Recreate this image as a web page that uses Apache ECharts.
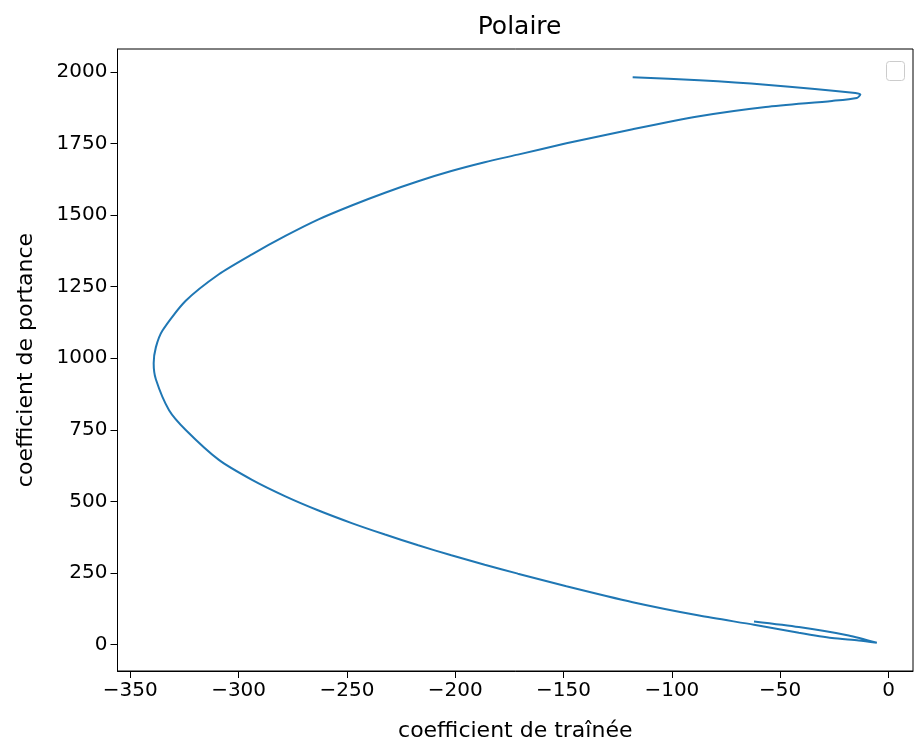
<!DOCTYPE html>
<html>
<head>
<meta charset="utf-8">
<title>Polaire</title>
<script src="https://cdn.jsdelivr.net/npm/echarts@6/dist/echarts.min.js"></script>
<style>
  html, body { margin: 0; padding: 0; background: #fff; }
  #chart { width: 914px; height: 747px; }
</style>
</head>
<body>
<div id="chart"></div>
<script>
// coefficient de traînée (x) et coefficient de portance (y), dans l'ordre du tracé
let trainee = [
  -62.1, -41.4, -18.4, -5.4, -13.8, -26.1, -41.4, -62.1, -87.4, -118.1,
  -148.7, -171.1, -186.4, -201.8, -217.1, -232.4, -247.8, -263.1, -278.4, -293.8,
  -309.1, -324.4, -332.1, -338.2, -339.2, -338.2, -335.2, -324.4, -309.1, -293.8,
  -278.4, -263.1, -247.8, -232.4, -217.1, -201.8, -186.4, -171.1, -148.7, -118.1,
  -87.4, -56.7, -26.1, -14.6, -13.0, -15.3, -56.7, -87.4, -118.1
]
let portance = [
  80.2, 60.7, 31.4, 5.9, 13.9, 22.3, 40.8, 68.7, 100.9, 147.6,
  203.4, 247.2, 278.5, 311.3, 346.2, 383.8, 423.9, 467.8, 517.3, 574.9,
  644.6, 749.2, 818.2, 926.3, 982.0, 1037.8, 1096.0, 1200.6, 1293.4, 1363.1,
  1427.2, 1485.1, 1533.6, 1578.2, 1618.3, 1653.8, 1684.5, 1711.3, 1750.7, 1800.2,
  1845.6, 1878.0, 1898.9, 1909.4, 1920.9, 1926.8, 1955.7, 1971.1, 1981.5
]
// graduations
let xTicks = [-350, -300, -250, -200, -150, -100, -50, 0]
let yTicks = [0, 250, 500, 750, 1000, 1250, 1500, 1750, 2000]

let points = trainee.map((x, i) => [x, portance[i]])

// signe moins typographique comme matplotlib
function fmt(v) {
  return v < 0 ? "\u2212" + Math.abs(v) : String(v)
}

let myChart = echarts.init(document.getElementById("chart"))
let font = "DejaVu Sans"

myChart.setOption({
  animation: false,
  textStyle: { fontFamily: font },
  title: {
    text: "Polaire",
    left: "56.3%",
    textAlign: "center",
    top: 10,
    textStyle: { fontFamily: font, fontSize: 25, fontWeight: "normal", color: "#000" },
  },
  grid: {
    left: 117.5,
    right: 1,
    top: 49,
    bottom: 75,
    show: true,
    borderColor: "#000",
    borderWidth: 1,
    backgroundColor: "#fff",
  },
  xAxis: {
    type: "value",
    min: -355.9,
    max: 11.3,
    name: "coefficient de traînée",
    nameLocation: "middle",
    nameGap: 49,
    nameTextStyle: { fontFamily: font, fontSize: 22, color: "#000" },
    axisLine: { show: true, onZero: false, lineStyle: { color: "#000", width: 1 } },
    axisTick: { show: true, customValues: xTicks, length: 7, lineStyle: { color: "#000" } },
    axisLabel: {
      customValues: xTicks,
      formatter: fmt,
      margin: 10,
      fontFamily: font,
      fontSize: 20,
      color: "#000",
    },
    splitLine: { show: false },
  },
  yAxis: {
    type: "value",
    min: -92.9,
    max: 2080.3,
    name: "coefficient de portance",
    nameLocation: "middle",
    nameGap: 80,
    nameTextStyle: { fontFamily: font, fontSize: 22, color: "#000" },
    axisLine: { show: true, onZero: false, lineStyle: { color: "#000", width: 1 } },
    axisTick: { show: true, customValues: yTicks, length: 7, lineStyle: { color: "#000" } },
    axisLabel: {
      customValues: yTicks,
      formatter: fmt,
      margin: 10,
      fontFamily: font,
      fontSize: 20,
      color: "#000",
    },
    splitLine: { show: false },
  },
  // légende vide (aucune courbe nommée)
  graphic: [
    {
      type: "rect",
      right: 9,
      top: 61,
      shape: { width: 18, height: 19, r: 3 },
      style: { fill: "#fff", stroke: "#cccccc", lineWidth: 1 },
    },
  ],
  series: [
    {
      type: "line",
      data: points,
      showSymbol: false,
      smooth: 0.25,
      lineStyle: { color: "#1f77b4", width: 2 },
      itemStyle: { color: "#1f77b4" },
      silent: true,
    },
  ],
})
</script>
</body>
</html>
